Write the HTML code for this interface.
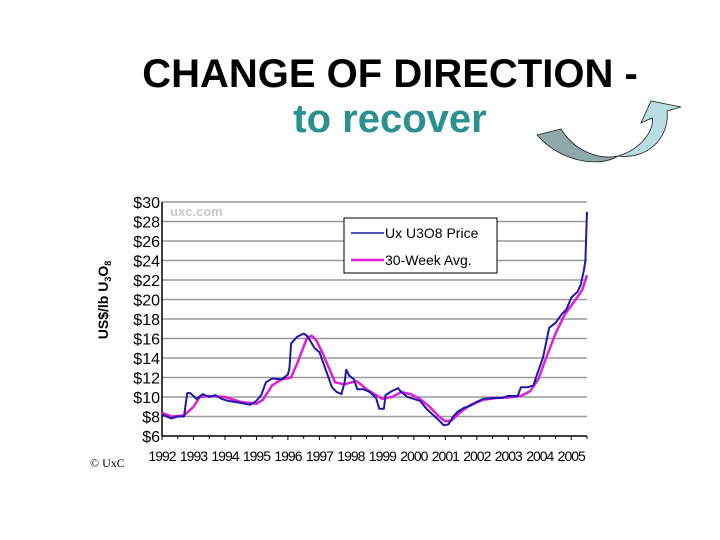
<!DOCTYPE html>
<html><head><meta charset="utf-8"><style>
body{margin:0;background:#fff;width:720px;height:540px;overflow:hidden;font-family:"Liberation Sans",sans-serif}
svg{position:absolute;left:0;top:0}
</style></head><body>
<svg width="720" height="540">
<text x="390" y="87" text-anchor="middle" font-size="40" font-weight="bold" fill="#000">CHANGE OF DIRECTION -</text>
<text x="390" y="132" text-anchor="middle" font-size="40" font-weight="bold" fill="#2a9090">to recover</text>
<g>
<path d="M537,135 L561,129 C575,152 600,160 618,156 C600,168 560,162 537,135 Z" fill="#8fa9ab" stroke="#222" stroke-width="0.8"/>
<path d="M618,156 C640,150 655,130 652,118 L641,123 L651,101 L681,107 L667,111 C670,135 650,160 618,156 Z" fill="#b9dde2" stroke="#222" stroke-width="0.8"/>
</g>
<g id="chart"></g>
<text transform="translate(108,300) rotate(-90)" text-anchor="middle" font-size="14" font-weight="bold" fill="#000">US$/lb U<tspan font-size="9" dy="3">3</tspan><tspan dy="-3">O</tspan><tspan font-size="9" dy="3">8</tspan></text>
<text x="170" y="216" font-size="13" font-weight="bold" fill="#c8c8c8">uxc.com</text>
<text x="90" y="467" font-family="Liberation Serif,serif" font-size="12" fill="#000">© UxC</text>
<g>
<rect x="344" y="218" width="153" height="55" fill="#fff" stroke="#000" stroke-width="1"/>
<line x1="351" y1="233" x2="384" y2="233" stroke="#1a1aa8" stroke-width="1.5"/>
<text x="385" y="238" font-size="14" fill="#000">Ux U3O8 Price</text>
<line x1="351" y1="260" x2="384" y2="260" stroke="#e020d8" stroke-width="2.5"/>
<text x="385" y="265" font-size="14" fill="#000">30-Week Avg.</text>
</g>
</svg>
<script>
const yTicks=[6,8,10,12,14,16,18,20,22,24,26,28,30];
const years=[1992,1993,1994,1995,1996,1997,1998,1999,2000,2001,2002,2003,2004,2005];
const priceX=[1992.0,1992.3,1992.5,1992.7,1992.8,1992.9,1993.1,1993.3,1993.5,1993.7,1993.9,1994.1,1994.5,1994.8,1995.0,1995.15,1995.3,1995.5,1995.8,1996.0,1996.05,1996.1,1996.3,1996.5,1996.6,1996.7,1996.85,1997.0,1997.2,1997.4,1997.55,1997.7,1997.8,1997.85,1997.95,1998.1,1998.2,1998.4,1998.6,1998.8,1998.9,1999.05,1999.1,1999.3,1999.5,1999.6,1999.8,2000.0,2000.2,2000.4,2000.6,2000.8,2000.95,2001.1,2001.25,2001.4,2001.6,2001.8,2002.0,2002.2,2002.5,2002.8,2003.0,2003.3,2003.4,2003.6,2003.8,2003.9,2004.1,2004.3,2004.5,2004.7,2004.85,2005.0,2005.2,2005.3,2005.4,2005.45,2005.5];
const priceY=[8.2,7.8,8.0,8.0,10.4,10.4,9.8,10.3,10.0,10.2,9.8,9.6,9.4,9.2,9.6,10.2,11.5,11.9,11.8,12.3,13,15.5,16.2,16.5,16.3,15.8,15,14.6,12.8,11,10.5,10.3,11.5,12.8,12.2,11.8,10.8,10.8,10.5,9.9,8.8,8.8,10.2,10.6,10.9,10.5,10.0,9.8,9.6,8.8,8.2,7.6,7.1,7.2,8.0,8.5,8.9,9.1,9.5,9.8,9.9,9.9,10.1,10.1,11,11.0,11.2,12.2,14.0,17.1,17.6,18.5,19.0,20.2,20.8,21.5,23,24,29];
const avgX=[1992.0,1992.3,1992.7,1993.0,1993.2,1993.5,1994.0,1994.5,1995.0,1995.2,1995.5,1995.8,1996.1,1996.3,1996.6,1996.75,1996.9,1997.1,1997.3,1997.5,1997.8,1998.0,1998.2,1998.5,1998.8,1999.0,1999.3,1999.6,1999.9,2000.2,2000.5,2000.8,2001.0,2001.2,2001.5,2001.8,2002.2,2002.6,2003.0,2003.4,2003.7,2003.95,2004.2,2004.5,2004.8,2005.1,2005.35,2005.5];
const avgY=[8.4,8.0,8.1,9.0,10.0,10.1,10.0,9.5,9.3,9.7,11.2,11.8,12.0,13.5,16.0,16.3,15.8,14.5,13,11.5,11.3,11.5,11.6,10.8,10.2,9.8,10.0,10.5,10.3,9.8,9.0,8.0,7.5,7.6,8.5,9.2,9.7,9.9,9.95,10.1,10.6,11.8,14,16.5,18.5,19.8,21.0,22.5];
const X0=162,X1=587,Y0=436,Y1=202;
const sx=v=>X0+(v-1992)/(2005.5-1992)*(X1-X0);
const sy=v=>Y0-(v-6)/(30-6)*(Y0-Y1);
const NS="http://www.w3.org/2000/svg";
const g=document.getElementById('chart');
function mk(t,a){const e=document.createElementNS(NS,t);for(const k in a)e.setAttribute(k,a[k]);g.appendChild(e);return e;}
mk('rect',{x:X0,y:Y1,width:X1-X0,height:Y0-Y1,fill:'#fff'});
yTicks.forEach(t=>{
 if(t>6){const l=mk('line',{x1:X0,x2:X1,y1:sy(t),y2:sy(t),stroke:'#999','stroke-width':1.5});
 
 }
 const tx=mk('text',{x:X0-2,y:sy(t)+6,'text-anchor':'end','font-size':16,'font-family':'Liberation Sans Narrow,Liberation Sans,sans-serif',fill:'#000'});
 tx.textContent='$'+t;
 
 
});
mk('line',{x1:X0,x2:X0,y1:Y1,y2:Y0,stroke:'#000','stroke-width':1.5});
mk('line',{x1:X0,x2:X1,y1:Y0,y2:Y0,stroke:'#000','stroke-width':1.5});
years.forEach(y=>{
 mk('line',{x1:sx(y),x2:sx(y),y1:Y0,y2:Y0+4,stroke:'#000'});
 mk('line',{x1:sx(y+0.5),x2:sx(y+0.5),y1:Y0,y2:Y0+3,stroke:'#000'});
 const tx=mk('text',{x:sx(y),y:Y0+25,'text-anchor':'middle','font-size':14,'letter-spacing':'-1',fill:'#000'});
 tx.textContent=y;
 
 
});
const pth=(xs,ys)=>xs.map((x,i)=>(i?'L':'M')+sx(x).toFixed(1)+','+sy(ys[i]).toFixed(1)).join('');
const a=mk('path',{d:pth(avgX,avgY),fill:'none',stroke:'#e020d8','stroke-width':2.5,'stroke-linejoin':'round'});


const p=mk('path',{d:pth(priceX,priceY),fill:'none',stroke:'#1a1aa8','stroke-width':2,'stroke-linejoin':'round'});


</script>
</body></html>
